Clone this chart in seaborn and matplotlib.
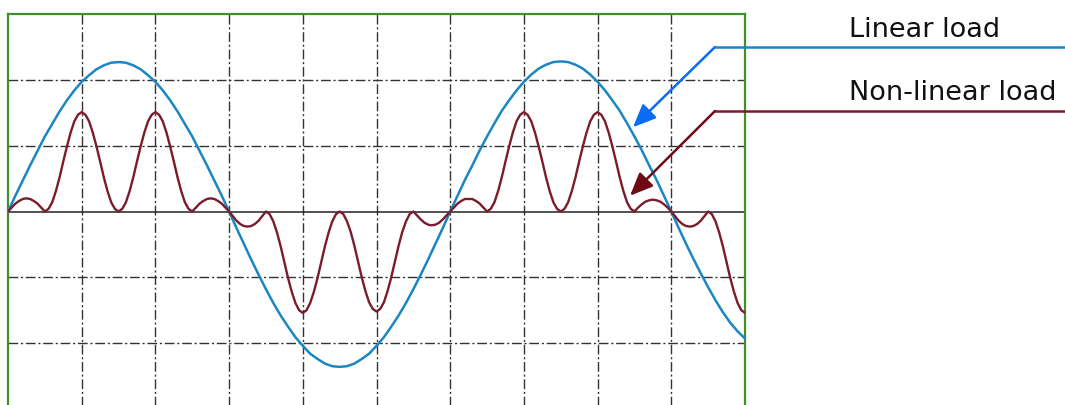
import numpy as np
import pandas as pd
import seaborn as sns
import matplotlib.pyplot as plt
from matplotlib.lines import Line2D

# time axis in grid columns
t_lin = [round(i * 0.1, 2) for i in range(101)]    # 0 .. 10, step 0.1
t_non = [round(i * 0.05, 2) for i in range(201)]   # 0 .. 10, step 0.05

# linear load current (pure sine)
linear = [0.00, 0.24, 0.47, 0.70, 0.92, 1.14, 1.33, 1.52, 1.69, 1.84,
          1.97, 2.07, 2.16, 2.22, 2.26, 2.27, 2.26, 2.22, 2.16, 2.07,
          1.97, 1.84, 1.69, 1.52, 1.33, 1.14, 0.92, 0.70, 0.47, 0.24,
          0.00, -0.25, -0.49, -0.73, -0.96, -1.18, -1.39, -1.58, -1.75, -1.91,
          -2.04, -2.16, -2.24, -2.31, -2.35, -2.36, -2.35, -2.31, -2.24, -2.16,
          -2.04, -1.91, -1.75, -1.58, -1.39, -1.18, -0.96, -0.73, -0.49, -0.25,
          0.00, 0.24, 0.48, 0.70, 0.93, 1.14, 1.34, 1.53, 1.69, 1.84,
          1.97, 2.08, 2.17, 2.23, 2.27, 2.28, 2.27, 2.23, 2.17, 2.08,
          1.97, 1.84, 1.69, 1.53, 1.34, 1.14, 0.93, 0.70, 0.48, 0.24,
          0.00, -0.25, -0.49, -0.72, -0.94, -1.15, -1.35, -1.53, -1.69, -1.82,
          -1.93]

# non-linear load current (distorted)
nonlinear = [
    # first positive half, 0 .. 3
    0.00, 0.06, 0.12, 0.16, 0.19, 0.20, 0.19, 0.16, 0.12, 0.06, 0.00,
    0.04, 0.14, 0.31, 0.52, 0.76, 0.99, 1.20, 1.37, 1.47, 1.51,
    1.47, 1.37, 1.20, 0.99, 0.76, 0.52, 0.31, 0.14, 0.04, 0.00,
    0.04, 0.14, 0.31, 0.52, 0.76, 0.99, 1.20, 1.37, 1.47, 1.51,
    1.47, 1.37, 1.20, 0.99, 0.76, 0.52, 0.31, 0.14, 0.04, 0.00,
    0.06, 0.12, 0.16, 0.19, 0.20, 0.19, 0.16, 0.12, 0.06, 0.00,
    # negative half, 3 .. 6
    -0.07, -0.14, -0.19, -0.22, -0.23, -0.22, -0.19, -0.14, -0.07, 0.00,
    -0.04, -0.15, -0.32, -0.53, -0.77, -1.01, -1.22, -1.39, -1.50, -1.54,
    -1.50, -1.39, -1.22, -1.01, -0.77, -0.53, -0.32, -0.15, -0.04, 0.00,
    -0.04, -0.15, -0.31, -0.52, -0.76, -1.00, -1.21, -1.38, -1.48, -1.52,
    -1.48, -1.38, -1.21, -1.00, -0.76, -0.52, -0.31, -0.15, -0.04, 0.00,
    -0.06, -0.12, -0.17, -0.20, -0.21, -0.20, -0.17, -0.12, -0.06, 0.00,
    # second positive half, 6 .. 9
    0.06, 0.12, 0.16, 0.19, 0.19, 0.19, 0.16, 0.12, 0.06, 0.00,
    0.04, 0.14, 0.31, 0.52, 0.76, 0.99, 1.20, 1.37, 1.47, 1.51,
    1.47, 1.37, 1.20, 0.99, 0.76, 0.52, 0.31, 0.14, 0.04, 0.00,
    0.04, 0.14, 0.31, 0.52, 0.76, 0.99, 1.20, 1.37, 1.47, 1.51,
    1.47, 1.37, 1.20, 0.99, 0.76, 0.52, 0.31, 0.14, 0.04, 0.00,
    0.06, 0.11, 0.15, 0.17, 0.18, 0.17, 0.15, 0.11, 0.06, 0.00,
    # start of next negative half, 9 .. 10
    -0.07, -0.14, -0.19, -0.22, -0.23, -0.22, -0.19, -0.14, -0.07, 0.00,
    -0.04, -0.15, -0.32, -0.53, -0.77, -1.01, -1.22, -1.39, -1.50, -1.54,
]

labels = ['Linear load', 'Non-linear load']
colors = ['#1a87c4', '#7a1c2c']
arrow_colors = ['#0a6cf2', '#6e0a16']

sns.set_style('white')
plt.rcParams['font.family'] = ['DejaVu Sans']

fig = plt.figure(figsize=(10.65, 4.05), dpi=100)
W, H = 1065, 405
ax = fig.add_axes([8 / W, -4 / H, 737 / W, 395 / H])

# oscilloscope grid
for x in range(1, 10):
    ax.axvline(x, color='#333333', lw=1, ls=(0, (7, 2, 1.5, 2)), zorder=1)
for y in [-2, -1, 1, 2]:
    ax.axhline(y, color='#333333', lw=1, ls=(0, (7, 2, 1.5, 2)), zorder=1)
ax.axhline(0, color='#222222', lw=1.1, zorder=1)

sns.lineplot(x=t_lin, y=linear, color=colors[0], linewidth=1.8, ax=ax, zorder=3)
sns.lineplot(x=t_non, y=nonlinear, color=colors[1], linewidth=1.7, ax=ax, zorder=3)

ax.set_xlim(0, 10)
ax.set_ylim(-3, 3)
ax.set_xticks([])
ax.set_yticks([])
for s in ax.spines.values():
    s.set_color('#3f8f2a')
    s.set_linewidth(1.6)

# labels with leader lines and arrows
tips = [(8.48, 1.28), (8.44, 0.24)]
label_y = [47, 111]
text_y = [30, 93]
for lab, c, ac, tip, ly, ty in zip(labels, colors, arrow_colors, tips, label_y, text_y):
    fig.text(849 / W, 1 - ty / H, lab, fontsize=19.5, color='#111111',
             va='center', ha='left')
    fig.add_artist(Line2D([715 / W, 1.0], [1 - ly / H, 1 - ly / H],
                          color=c, lw=1.8, transform=fig.transFigure))
    ax.annotate('', xy=tip, xycoords='data',
                xytext=(715 / W, 1 - ly / H), textcoords='figure fraction',
                arrowprops=dict(arrowstyle='-|>,head_length=1.4,head_width=0.6',
                                color=ac, lw=1.8, shrinkA=0, shrinkB=0),
                annotation_clip=False, zorder=5)

fig.savefig('out.png', dpi=100)
